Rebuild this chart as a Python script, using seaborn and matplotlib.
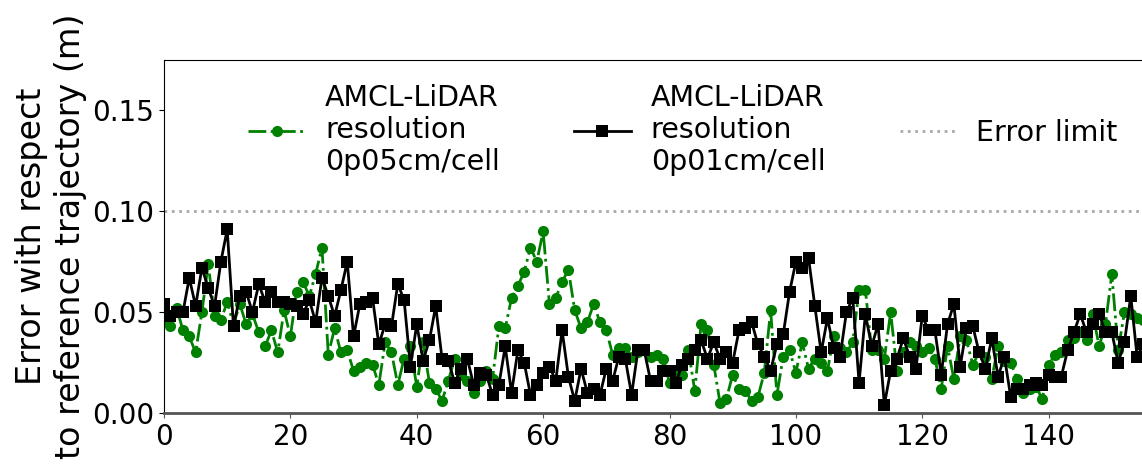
import numpy as np
import pandas as pd
import matplotlib
matplotlib.use("Agg")
import matplotlib.pyplot as plt
import seaborn as sns

# Localisation error per sample for two map resolutions (metres)
err_0p05 = [
    0.046, 0.043, 0.052, 0.041, 0.038, 0.030, 0.050, 0.074, 0.048, 0.046,
    0.055, 0.044, 0.054, 0.044, 0.049, 0.040, 0.033, 0.041, 0.030, 0.051,
    0.038, 0.060, 0.065, 0.058, 0.069, 0.082, 0.029, 0.042, 0.030, 0.031,
    0.021, 0.023, 0.025, 0.024, 0.014, 0.035, 0.030, 0.014, 0.027, 0.033,
    0.013, 0.035, 0.015, 0.012, 0.006, 0.016, 0.027, 0.019, 0.016, 0.010,
    0.016, 0.021, 0.017, 0.043, 0.042, 0.057, 0.063, 0.070, 0.082, 0.075,
    0.090, 0.054, 0.057, 0.065, 0.071, 0.051, 0.042, 0.045, 0.054, 0.045,
    0.041, 0.029, 0.032, 0.032, 0.028, 0.030, 0.031, 0.028, 0.029, 0.027,
    0.015, 0.021, 0.019, 0.031, 0.011, 0.044, 0.041, 0.024, 0.005, 0.007,
    0.019, 0.012, 0.011, 0.006, 0.008, 0.020, 0.051, 0.009, 0.028, 0.031,
    0.020, 0.035, 0.022, 0.027, 0.025, 0.021, 0.038, 0.032, 0.030, 0.035,
    0.061, 0.061, 0.031, 0.031, 0.027, 0.050, 0.021, 0.030, 0.035, 0.033,
    0.030, 0.032, 0.027, 0.012, 0.033, 0.017, 0.038, 0.036, 0.024, 0.030,
    0.028, 0.017, 0.033, 0.026, 0.025, 0.017, 0.010, 0.012, 0.013, 0.007,
    0.024, 0.029, 0.030, 0.036, 0.037, 0.040, 0.036, 0.049, 0.033, 0.044,
    0.069, 0.031, 0.050, 0.049, 0.047, 0.046,
]

err_0p01 = [
    0.054, 0.048, 0.050, 0.050, 0.067, 0.053, 0.072, 0.062, 0.053, 0.075,
    0.091, 0.043, 0.058, 0.060, 0.050, 0.064, 0.055, 0.060, 0.055, 0.055,
    0.054, 0.053, 0.049, 0.056, 0.045, 0.067, 0.058, 0.048, 0.061, 0.075,
    0.038, 0.054, 0.055, 0.057, 0.034, 0.044, 0.043, 0.064, 0.056, 0.023,
    0.044, 0.026, 0.036, 0.053, 0.027, 0.026, 0.015, 0.022, 0.027, 0.014,
    0.020, 0.019, 0.009, 0.014, 0.033, 0.010, 0.031, 0.025, 0.009, 0.014,
    0.020, 0.023, 0.016, 0.041, 0.018, 0.006, 0.022, 0.010, 0.012, 0.009,
    0.022, 0.016, 0.028, 0.027, 0.009, 0.031, 0.031, 0.016, 0.016, 0.021,
    0.021, 0.015, 0.024, 0.027, 0.031, 0.036, 0.027, 0.035, 0.027, 0.030,
    0.025, 0.041, 0.042, 0.045, 0.034, 0.028, 0.021, 0.034, 0.039, 0.060,
    0.075, 0.072, 0.077, 0.053, 0.030, 0.047, 0.032, 0.028, 0.050, 0.057,
    0.015, 0.049, 0.033, 0.044, 0.004, 0.021, 0.027, 0.037, 0.028, 0.022,
    0.048, 0.041, 0.041, 0.019, 0.044, 0.054, 0.023, 0.042, 0.043, 0.030,
    0.022, 0.037, 0.018, 0.028, 0.008, 0.012, 0.012, 0.014, 0.015, 0.014,
    0.019, 0.018, 0.018, 0.031, 0.040, 0.049, 0.040, 0.044, 0.049, 0.040,
    0.040, 0.025, 0.035, 0.058, 0.028, 0.034,
]

error_limit = 0.10
label_0p05 = "AMCL-LiDAR\nresolution\n0p05cm/cell"
label_0p01 = "AMCL-LiDAR\nresolution\n0p01cm/cell"
label_limit = "Error limit"
x_ticks = [0, 20, 40, 60, 80, 100, 120, 140]
y_ticks = [0.00, 0.05, 0.10, 0.15]

df = pd.DataFrame({
    "sample": np.arange(len(err_0p05)),
    "e05": err_0p05,
    "e01": err_0p01,
})

W, H = 1142, 471
fig = plt.figure(figsize=(W / 100, H / 100), dpi=100)
ax = fig.add_axes([164 / W, (H - 413) / H, 1011 / W, 353 / H])

sns.lineplot(data=df, x="sample", y="e05", ax=ax, color="green",
             linestyle="-.", linewidth=2, marker="o", markersize=8,
             markeredgewidth=0, label=label_0p05)
sns.lineplot(data=df, x="sample", y="e01", ax=ax, color="black",
             linestyle="-", linewidth=2, marker="s", markersize=8,
             markeredgewidth=0, label=label_0p01)
ax.axhline(error_limit, color="darkgray", linestyle=":", linewidth=2,
           label=label_limit)

ax.set_xlim(0, 160)
ax.set_ylim(0, 0.175)
ax.set_xticks(x_ticks)
ax.set_yticks(y_ticks)
ax.tick_params(labelsize=20)
ax.set_xlabel("")
ax.set_ylabel("Error with respect\nto reference trajectory (m)", fontsize=24)

ax.spines["bottom"].set_color("#555555")
ax.spines["bottom"].set_linewidth(2)
ax.tick_params(axis="x", colors="#555555", labelcolor="black")

ax.legend(loc="center", bbox_to_anchor=(683 / W, 1 - 130 / H),
          bbox_transform=fig.transFigure, ncol=3, frameon=False,
          fontsize=20.5, columnspacing=2.6, handletextpad=0.7,
          handlelength=2.0)

fig.savefig("out.png", dpi=100)
